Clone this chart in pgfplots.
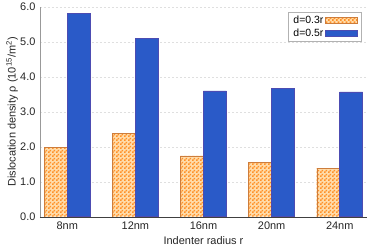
\documentclass[border=0pt]{standalone}
\usepackage{fontspec}
\setmainfont{Liberation Sans}
\usepackage{pgfplots}
\pgfplotsset{compat=1.18}
\usetikzlibrary{patterns}
\definecolor{barblue}{RGB}{42,90,200}
\definecolor{checkor}{RGB}{255,145,40}
\definecolor{checklight}{RGB}{255,220,170}
\definecolor{orborder}{RGB}{205,125,60}
\pgfdeclarepatternformonly{mycheck}{\pgfpointorigin}{\pgfpoint{4bp}{4bp}}{\pgfpoint{4bp}{4bp}}{%
  \pgfpathrectangle{\pgfpointorigin}{\pgfpoint{2bp}{2bp}}%
  \pgfpathrectangle{\pgfpoint{2bp}{2bp}}{\pgfpoint{2bp}{2bp}}%
  \pgfusepath{fill}}
\begin{document}
\begin{tikzpicture}
\useasboundingbox (-40bp,-32.3bp) rectangle (334bp,216.7bp);
\begin{axis}[
  at={(0,0)}, anchor=south west,
  scale only axis, width=327bp, height=209.7bp,
  ybar=0pt, bar width=23bp,
  xmin=-0.4, xmax=4.4, ymin=0, ymax=6,
  xtick={0,1,2,3,4}, xticklabels={8nm,12nm,16nm,20nm,24nm},
  ytick={0,1,2,3,4,5,6},
  yticklabel style={/pgf/number format/fixed, /pgf/number format/fixed zerofill, /pgf/number format/precision=1, xshift=-1bp},
  /pgf/number format/assume math mode=true,
  axis x line=bottom, axis y line=left,
  axis line style={-, gray!80},
  x axis line style={black!75},
  major tick length=0pt,
  ymajorgrids, major grid style={gray!25, dash pattern=on 2bp off 2bp},
  tick label style={font=\fontsize{11}{13}\selectfont, text=black!85},
  xticklabel style={yshift=-2bp},
  label style={font=\fontsize{11}{13}\selectfont, text=black!85},
  xlabel={Indenter radius r},
  ylabel={Dislocation density ρ (10\textsuperscript{15}/m\textsuperscript{2})},
  xlabel style={at={(axis description cs:0.5,-0.1125)}, anchor=center},
  ylabel style={at={(axis description cs:-0.0856,0.5)}, anchor=center},
  legend style={at={(0.982,0.975)}, anchor=north east, draw=gray!60,
    font=\fontsize{10.5}{12}\selectfont, legend cell align=left,
    inner xsep=3bp, inner ysep=1.5bp, row sep=0bp},
  legend plot pos=right,
  legend image code/.code={\draw[#1] (0bp,-3.2bp) rectangle (32bp,3.2bp);},
]
\addplot[fill=checklight, draw=orborder, line width=0.4bp,
  postaction={pattern=mycheck, pattern color=checkor}]
  coordinates {(0,1.98) (1,2.39) (2,1.74) (3,1.56) (4,1.38)};
\addplot[fill=barblue, draw=gray!60!blue, line width=0.5bp]
  coordinates {(0,5.82) (1,5.11) (2,3.60) (3,3.68) (4,3.57)};
\legend{d=0.3r, d=0.5r}
\end{axis}
\end{tikzpicture}
\end{document}
